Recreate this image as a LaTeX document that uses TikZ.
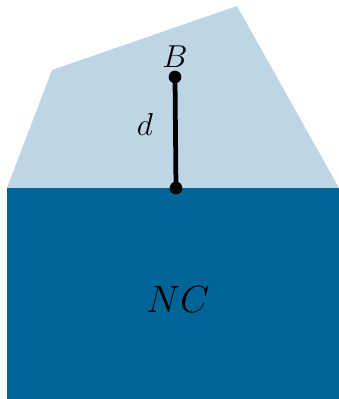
\documentclass[tikz,border=0pt]{standalone}
\definecolor{lightbl}{RGB}{190,213,230}
\definecolor{darkbl}{RGB}{0,101,150}
\tikzset{dot/.style={circle,fill=black,inner sep=0pt,minimum size=4.8pt}}
\begin{document}
\begin{tikzpicture}[x=0.379pt,y=-0.379pt]
\useasboundingbox (0,0) rectangle (339,399);
\fill[lightbl] (7,188) -- (52,70) -- (237,6) -- (339,188) -- cycle;
\fill[darkbl] (7,188) rectangle (339,399);
\node[dot] (b) at (175,77) {};
\node[dot] (f) at (176,188) {};
\draw[line width=1.8pt] (b.center) -- (f.center);
\node at (175,57) {\large $B$};
\node at (145,124) {\large $d$};
\node (nc) at (178,300) {\Large $NC$};
\end{tikzpicture}
\end{document}
